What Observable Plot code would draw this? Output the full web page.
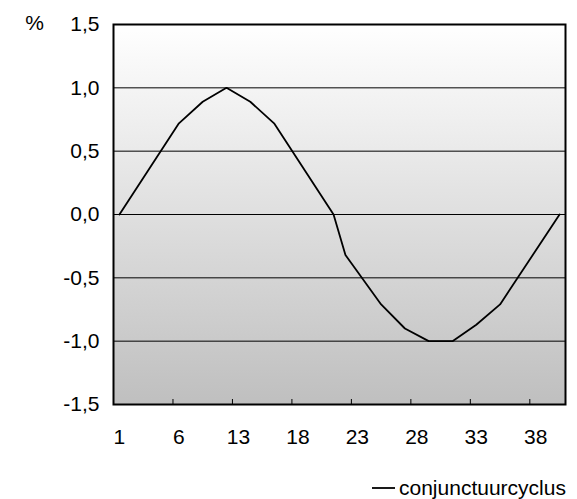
<!DOCTYPE html>
<html>
<head>
<meta charset="utf-8">
<script src="https://cdn.jsdelivr.net/npm/d3@7"></script>
<script src="https://cdn.jsdelivr.net/npm/@observablehq/plot@0.6"></script>
<style>
  html, body { margin: 0; padding: 0; background: white; }
  #wrap { position: relative; width: 577px; height: 499px; font-family: "Liberation Sans", Arial, sans-serif; }
  #legend { position: absolute; left: 372px; top: 476px; height: 24px; display: flex; align-items: center; font-size: 21px; line-height: 24px; color: black; }
  #legend svg { margin-right: 4px; }
</style>
</head>
<body>
<div id="wrap">
  <div id="chart"></div>
  <div id="legend"><svg width="23" height="10"><line x1="0" x2="23" y1="5" y2="5" stroke="black" stroke-width="1.8"/></svg><span id="legendText"></span></div>
</div>
<script>
// Category index (0..37) of each data point and its value (%)
const pointIdx = [0, 5, 7, 9, 11, 13, 18, 19, 22, 24, 26, 28, 30, 32, 37];
const cycle    = [0, 0.72, 0.89, 1.0, 0.89, 0.72, 0, -0.32, -0.71, -0.9, -1.0, -1.0, -0.87, -0.71, 0];
const categoryCount = 38;
const xLabelIdx = [0, 5, 10, 15, 20, 25, 30, 35];
const xLabels = ["1", "6", "13", "18", "23", "28", "33", "38"];
const yTicks = [-1.5, -1.0, -0.5, 0, 0.5, 1.0, 1.5];
const gridValues = [-1.0, -0.5, 0, 0.5, 1.0];
const seriesName = "conjunctuurcyclus";
const unitLabel = "%";

document.getElementById("legendText").textContent = seriesName;

const data = pointIdx.map((x, i) => ({x, v: cycle[i]}));
const tickBounds = xLabelIdx.map(i => i - 0.5);
const FS = 21;

const defs = () => {
  const ns = "http://www.w3.org/2000/svg";
  const d = document.createElementNS(ns, "defs");
  const g = document.createElementNS(ns, "linearGradient");
  g.setAttribute("id", "bg");
  g.setAttribute("x1", "0"); g.setAttribute("x2", "0");
  g.setAttribute("y1", "0"); g.setAttribute("y2", "1");
  [["0%", "#ffffff"], ["100%", "#bfbfbf"]].forEach(([o, c]) => {
    const s = document.createElementNS(ns, "stop");
    s.setAttribute("offset", o); s.setAttribute("stop-color", c);
    g.appendChild(s);
  });
  d.appendChild(g);
  return d;
};

const chart = Plot.plot({
  width: 577,
  height: 465,
  marginTop: 24,
  marginBottom: 61,
  marginLeft: 113,
  marginRight: 12,
  style: {fontFamily: "'Liberation Sans', Arial, sans-serif", fontSize: FS + "px", color: "black", background: "white", overflow: "visible"},
  x: {domain: [-0.5, categoryCount - 0.5]},
  y: {domain: [-1.5, 1.5]},
  marks: [
    defs,
    Plot.frame({fill: "url(#bg)"}),
    Plot.ruleY(gridValues, {stroke: "black", strokeWidth: 1}),
    Plot.ruleX(tickBounds, {stroke: "black", strokeWidth: 1, insetTop: 375}),
    Plot.line(data, {x: "x", y: "v", stroke: "black", strokeWidth: 1.8}),
    Plot.frame({stroke: "black", strokeWidth: 2}),
    Plot.axisX({ticks: xLabelIdx, tickFormat: d => xLabels[xLabelIdx.indexOf(d)], tickSize: 0, tickPadding: 25, label: null, fontSize: FS}),
    Plot.axisY({ticks: yTicks, tickFormat: d => d.toFixed(1).replace(".", ","), tickSize: 0, tickPadding: 14, label: null, fontSize: FS}),
    Plot.text([unitLabel], {frameAnchor: "top-left", textAnchor: "middle", lineAnchor: "middle", dx: -79, dy: -1, fontSize: FS})
  ]
});
document.getElementById("chart").appendChild(chart);
</script>
</body>
</html>
